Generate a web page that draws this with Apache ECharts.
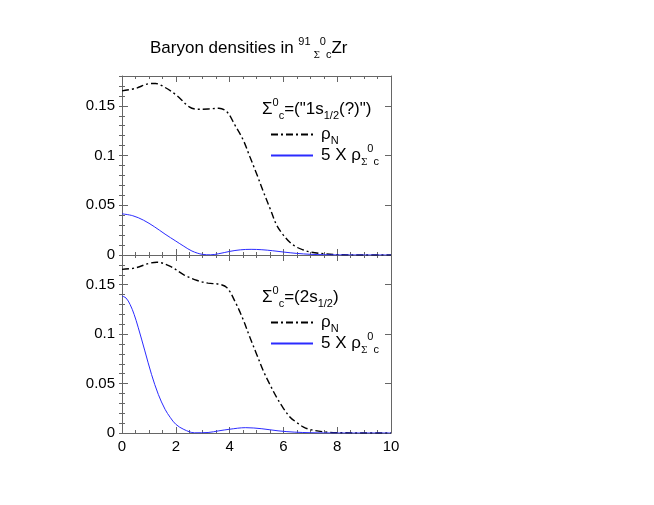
<!DOCTYPE html>
<html lang="en">
<head>
	<meta charset="UTF-8">
	<title>Baryon densities</title>
	<script src="https://cdn.jsdelivr.net/npm/echarts@6/dist/echarts.min.js"></script>
	<style>
		html,body{margin:0;height:100%;background:#fff;}
	</style>
</head>
<body>
	<div id="chart" style="width:654px; height:505px;"></div>
</body>

<script>
	// panel 1 : Sigma_c^0 = ("1s1/2(?)")
	var rN1 = [0, 0.5, 1.0, 1.25, 1.5, 2.0, 2.5, 2.8, 3.2, 3.6, 3.9, 4.2, 4.5, 4.75, 5.0, 5.25, 5.5, 5.75, 6.0, 6.25, 6.5, 6.75, 7.0, 7.5, 8, 9, 10];
	var rhoN1 = [0.165, 0.1675, 0.1722, 0.1725, 0.1700, 0.1612, 0.1490, 0.1466, 0.1468, 0.1476, 0.1440, 0.1305, 0.1160, 0.0990, 0.0820, 0.0640, 0.0470, 0.0300, 0.0200, 0.0125, 0.0078, 0.0050, 0.0030, 0.0012, 0.0004, 0, 0];
	var rS1 = [0, 0.4, 0.8, 1.2, 1.6, 2.0, 2.3, 2.6, 3.0, 3.3, 3.6, 4.0, 4.4, 4.8, 5.2, 5.6, 6.0, 6.5, 7.0, 7.5, 8, 10];
	var rhoS1 = [0.0414, 0.0395, 0.0350, 0.0285, 0.0210, 0.0140, 0.0088, 0.0040, 0.0006, 0.0002, 0.0013, 0.0036, 0.0052, 0.0057, 0.0053, 0.0043, 0.0030, 0.0016, 0.0007, 0.0003, 0.0001, 0];

	// panel 2 : Sigma_c^0 = (2s1/2)
	var rN2 = [0, 0.5, 1.0, 1.3, 1.8, 2.3, 2.8, 3.2, 3.6, 3.9, 4.2, 4.5, 4.75, 5.0, 5.25, 5.5, 5.75, 6.0, 6.25, 6.5, 6.75, 7.0, 7.5, 8, 9, 10];
	var rhoN2 = [0.1655, 0.1670, 0.1715, 0.1727, 0.1685, 0.1600, 0.1542, 0.1515, 0.1505, 0.1470, 0.1330, 0.1150, 0.0970, 0.0800, 0.0630, 0.0490, 0.0360, 0.0250, 0.0160, 0.0105, 0.0060, 0.0035, 0.0012, 0.0004, 0, 0];
	var rS2 = [0, 0.15, 0.3, 0.45, 0.6, 0.85, 1.1, 1.35, 1.6, 1.8, 2.0, 2.3, 2.7, 3.2, 3.6, 4.0, 4.6, 5.2, 5.8, 6.4, 7.0, 7.5, 8, 10];
	var rhoS2 = [0.1385, 0.1365, 0.130, 0.120, 0.107, 0.083, 0.059, 0.039, 0.024, 0.0155, 0.0088, 0.0036, 0.0002, 0.0005, 0.0022, 0.0038, 0.0054, 0.0043, 0.0022, 0.0009, 0.0003, 0.0001, 0, 0];

	var xTicks = [0, 2, 4, 6, 8, 10];
	var yTicks = [0, 0.05, 0.1, 0.15];

	var FONT = 'Liberation Sans';
	var AXC = '#666';

	function pairs(xs, ys){
		return xs.map(function(x, i){ return [x, ys[i]]; });
	}

	// rich text styles for sub / superscripts
	var rich = {
		m: {fontFamily: FONT, fontWeight: 'normal', fontSize: 17, color: '#000', lineHeight: 24},
		s: {fontFamily: FONT, fontWeight: 'normal', fontSize: 11, color: '#000', lineHeight: 11, verticalAlign: 'bottom'},
		p: {fontFamily: FONT, fontWeight: 'normal', fontSize: 11, color: '#000', lineHeight: 11, verticalAlign: 'top'},
		g: {fontFamily: 'DejaVu Serif', fontWeight: 'normal', fontSize: 9, color: '#000', lineHeight: 9, verticalAlign: 'bottom'}
	};

	function xAxisDef(grid, pos, labels){
		return {
			type: 'value', gridIndex: grid, position: pos, min: 0, max: 10, interval: 2,
			axisLine: {show: true, onZero: false, lineStyle: {color: AXC}},
			axisTick: {inside: true, length: 6, lineStyle: {color: AXC}},
			minorTick: {show: true, splitNumber: 4, length: 3, lineStyle: {color: AXC}},
			axisLabel: {show: labels, margin: 6, color: '#000', fontFamily: FONT, fontSize: 15},
			splitLine: {show: false}
		};
	}
	function yMajor(grid, pos, labels){
		return {
			type: 'value', gridIndex: grid, position: pos, min: 0, max: 0.18, interval: 0.05,
			axisLine: {show: true, onZero: false, lineStyle: {color: AXC}},
			axisTick: {inside: true, length: 6, lineStyle: {color: AXC}},
			axisLabel: {show: labels, showMaxLabel: false, margin: 7, color: '#000', fontFamily: FONT, fontSize: 15},
			splitLine: {show: false}
		};
	}
	function yMinor(grid, pos){
		return {
			type: 'value', gridIndex: grid, position: pos, min: 0, max: 0.18, interval: 0.01,
			axisLine: {show: false},
			axisTick: {inside: true, length: 3, lineStyle: {color: AXC}},
			axisLabel: {show: false},
			splitLine: {show: false}
		};
	}

	var nLine = {color: '#000', width: 1.4, type: [7, 3, 2, 3]};
	var sLine = {color: '#2b2bff', width: 1};

	function serie(name, xi, yi, data, ls){
		return {
			name: name, type: 'line', xAxisIndex: xi, yAxisIndex: yi,
			data: data, smooth: 0.35, symbol: 'none', showSymbol: false,
			lineStyle: ls, itemStyle: {color: ls.color}, z: 3
		};
	}

	var legendNames = {
		N1: '{m|ρ}{s|N}', S1: '{m|5 X ρ}{g|Σ}{p|0}{s|c}',
		N2: '{m|ρ}{s|N}', S2: '{m|5 X ρ}{g|Σ}{p|0}{s|c}'
	};

	function legendDef(top, names){
		return {
			orient: 'vertical', left: 265, top: top, itemWidth: 42, itemHeight: 12, itemGap: -3,
			data: names, selectedMode: false,
			itemStyle: {opacity: 0},
			formatter: function(n){ return legendNames[n]; },
			textStyle: {rich: rich, padding: [0, 0, 0, 3]}
		};
	}

	var option = {
		animation: false,
		title: [
			{text: '{m|Baryon densities in }{p|91}{g| Σ}{p|0}{s|c}{m|Zr}', left: 145, top: 31, textStyle: {fontWeight: 'normal', rich: rich}},
			{text: '{m|Σ}{p|0}{s|c}{m|=("1s}{s|1/2}{m|(?)")}', left: 257, top: 92, textStyle: {fontWeight: 'normal', rich: rich}},
			{text: '{m|Σ}{p|0}{s|c}{m|=(2s}{s|1/2}{m|)}', left: 257, top: 280, textStyle: {fontWeight: 'normal', rich: rich}}
		],
		legend: [legendDef(121, ['N1', 'S1']), legendDef(309, ['N2', 'S2'])],
		grid: [
			{left: 122, width: 269, top: 76, height: 179},
			{left: 122, width: 269, top: 255, height: 178}
		],
		xAxis: [
			xAxisDef(0, 'bottom', false), xAxisDef(0, 'top', false),
			xAxisDef(1, 'bottom', true), xAxisDef(1, 'top', false)
		],
		yAxis: [
			yMajor(0, 'left', true), yMinor(0, 'left'), yMajor(0, 'right', false), yMinor(0, 'right'),
			yMajor(1, 'left', true), yMinor(1, 'left'), yMajor(1, 'right', false), yMinor(1, 'right')
		],
		series: [
			serie('N1', 0, 0, pairs(rN1, rhoN1), nLine),
			serie('S1', 0, 0, pairs(rS1, rhoS1), sLine),
			serie('N2', 2, 4, pairs(rN2, rhoN2), nLine),
			serie('S2', 2, 4, pairs(rS2, rhoS2), sLine)
		]
	};

	var myChart = echarts.init(document.getElementById('chart'));
	myChart.setOption(option);
</script>
</html>
